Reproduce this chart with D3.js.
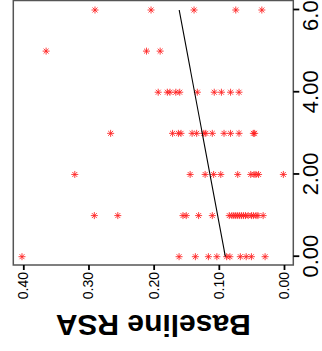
<!DOCTYPE html>
<html>
<head>
<meta charset="utf-8">
<script src="https://cdn.jsdelivr.net/npm/d3@7"></script>
<style>
  body { margin: 0; background: #fff; }
  svg { display: block; font-family: "Liberation Sans", Arial, sans-serif; }
</style>
</head>
<body>
<script>
// rate groups (x in the unrotated plot) and Baseline RSA values in each group
const groups = [0, 1, 2, 3, 4, 5, 6];
const rsa0 = [0.402, 0.161, 0.136, 0.116, 0.103, 0.088, 0.083, 0.067, 0.058, 0.050, 0.029];
const rsa1 = [0.291, 0.255, 0.155, 0.150, 0.131, 0.110, 0.084, 0.080, 0.077, 0.074, 0.071, 0.068,
              0.065, 0.062, 0.059, 0.055, 0.050, 0.047, 0.043, 0.040, 0.032];
const rsa2 = [0.321, 0.144, 0.121, 0.108, 0.097, 0.071, 0.051, 0.046, 0.043, 0.039, 0.001];
const rsa3 = [0.266, 0.171, 0.162, 0.158, 0.141, 0.134, 0.123, 0.120, 0.110, 0.092, 0.082,
              0.069, 0.047, 0.045];
const rsa4 = [0.193, 0.179, 0.175, 0.166, 0.160, 0.133, 0.107, 0.096, 0.082, 0.069];
const rsa5 = [0.365, 0.211, 0.190];
const rsa6 = [0.290, 0.204, 0.138, 0.074, 0.034];
const rsaByGroup = [rsa0, rsa1, rsa2, rsa3, rsa4, rsa5, rsa6];

// fitted line
const fitIntercept = 0.09;
const fitSlope = 0.0118;

const xTicks = [0, 2, 4, 6];
const yTicks = [0, 0.1, 0.2, 0.3, 0.4];

const W = 322, H = 351;

const points = [];
groups.forEach((g, i) => rsaByGroup[i].forEach(v => points.push({ g, v })));

const svg = d3.select('body').append('svg')
  .attr('width', W)
  .attr('height', H);

// the whole plot is drawn upright and turned a quarter turn
const plot = svg.append('g')
  .attr('transform', `translate(0,${H}) rotate(-90)`);

const x = d3.scaleLinear().domain([0, 6]).range([94.3, 341]);
const y = d3.scaleLinear().domain([0, 0.4]).range([284, 23.3]);

const box = { left: 86, right: 350.5, top: 13.3, bottom: 293.3 };

// points: pch 8 style stars
const star = {
  draw(ctx, size) {
    const r = Math.sqrt(size) / 2;
    const d = r * Math.SQRT1_2;
    ctx.moveTo(-r, 0); ctx.lineTo(r, 0);
    ctx.moveTo(0, -r); ctx.lineTo(0, r);
    ctx.moveTo(-d, -d); ctx.lineTo(d, d);
    ctx.moveTo(-d, d); ctx.lineTo(d, -d);
  }
};

plot.selectAll('.pt')
  .data(points)
  .enter().append('path')
  .attr('class', 'pt')
  .attr('transform', d => `translate(${x(d.g)},${y(d.v)})`)
  .attr('d', d3.symbol().type(star).size(49))
  .attr('fill', 'none')
  .attr('stroke', '#ff2020')
  .attr('stroke-opacity', 0.85)
  .attr('stroke-width', 1);

// fitted line
const line = d3.line()
  .x(d => x(d))
  .y(d => y(fitIntercept + fitSlope * d));

plot.append('path')
  .datum([0, 6])
  .attr('fill', 'none')
  .attr('stroke', '#000')
  .attr('stroke-width', 1.1)
  .attr('d', line);

// frame
plot.append('rect')
  .attr('x', box.left)
  .attr('y', box.top)
  .attr('width', box.right - box.left)
  .attr('height', box.bottom - box.top)
  .attr('fill', 'none')
  .attr('stroke', '#555')
  .attr('stroke-width', 1.5);

// axes
const xAxis = plot.append('g')
  .attr('transform', `translate(0,${box.bottom})`)
  .call(d3.axisBottom(x).tickValues(xTicks).tickFormat(d3.format('.2f'))
    .tickSize(6).tickPadding(3));

const yAxis = plot.append('g')
  .attr('transform', `translate(${box.left},0)`)
  .call(d3.axisLeft(y).tickValues(yTicks).tickFormat(d3.format('.2f'))
    .tickSize(5).tickPadding(2));

[xAxis, yAxis].forEach(a => {
  a.select('.domain').remove();
  a.selectAll('line').attr('stroke', '#000').attr('stroke-width', 1.8);
  a.selectAll('text').attr('fill', '#000').attr('font-family', '"Liberation Sans", Arial, sans-serif');
});
xAxis.selectAll('text').attr('font-size', 22);
yAxis.selectAll('text').attr('font-size', 14);

// y axis title
plot.append('text')
  .attr('transform', `translate(36,${(box.top + box.bottom) / 2}) rotate(-90)`)
  .attr('text-anchor', 'middle')
  .attr('font-size', 30)
  .attr('font-weight', 'bold')
  .attr('fill', '#000')
  .text('Baseline RSA');
</script>
</body>
</html>
